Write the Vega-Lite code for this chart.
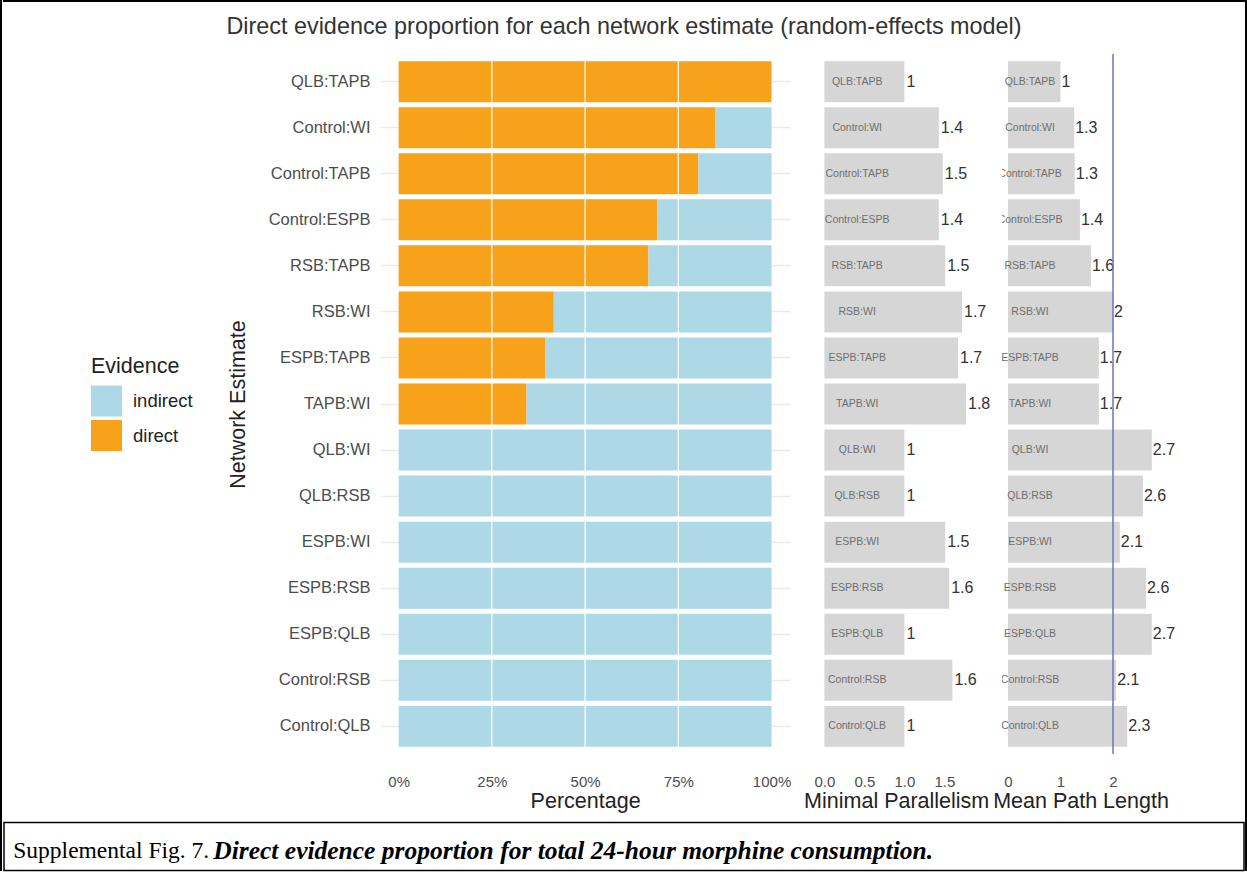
{
  "$schema": "https://vega.github.io/schema/vega-lite/v6.json",
  "padding": 0,
  "background": "white",
  "config": {
    "view": {"stroke": null},
    "font": "Liberation Sans",
    "axis": {"labelColor": "#4D4D4D", "titleColor": "#222222", "titleFontWeight": "normal", "titleFontSize": 21.5, "domain": false, "ticks": false}
  },
  "datasets": {
    "blank": [{"k": ""}],
    "evidence": [
      {"comparison": "QLB:TAPB", "evidence": "direct", "proportion": 1.0},
      {"comparison": "QLB:TAPB", "evidence": "indirect", "proportion": 0.0},
      {"comparison": "Control:WI", "evidence": "direct", "proportion": 0.85},
      {"comparison": "Control:WI", "evidence": "indirect", "proportion": 0.15},
      {"comparison": "Control:TAPB", "evidence": "direct", "proportion": 0.804},
      {"comparison": "Control:TAPB", "evidence": "indirect", "proportion": 0.196},
      {"comparison": "Control:ESPB", "evidence": "direct", "proportion": 0.694},
      {"comparison": "Control:ESPB", "evidence": "indirect", "proportion": 0.306},
      {"comparison": "RSB:TAPB", "evidence": "direct", "proportion": 0.67},
      {"comparison": "RSB:TAPB", "evidence": "indirect", "proportion": 0.33},
      {"comparison": "RSB:WI", "evidence": "direct", "proportion": 0.416},
      {"comparison": "RSB:WI", "evidence": "indirect", "proportion": 0.584},
      {"comparison": "ESPB:TAPB", "evidence": "direct", "proportion": 0.394},
      {"comparison": "ESPB:TAPB", "evidence": "indirect", "proportion": 0.606},
      {"comparison": "TAPB:WI", "evidence": "direct", "proportion": 0.343},
      {"comparison": "TAPB:WI", "evidence": "indirect", "proportion": 0.657},
      {"comparison": "QLB:WI", "evidence": "direct", "proportion": 0.0},
      {"comparison": "QLB:WI", "evidence": "indirect", "proportion": 1.0},
      {"comparison": "QLB:RSB", "evidence": "direct", "proportion": 0.0},
      {"comparison": "QLB:RSB", "evidence": "indirect", "proportion": 1.0},
      {"comparison": "ESPB:WI", "evidence": "direct", "proportion": 0.0},
      {"comparison": "ESPB:WI", "evidence": "indirect", "proportion": 1.0},
      {"comparison": "ESPB:RSB", "evidence": "direct", "proportion": 0.0},
      {"comparison": "ESPB:RSB", "evidence": "indirect", "proportion": 1.0},
      {"comparison": "ESPB:QLB", "evidence": "direct", "proportion": 0.0},
      {"comparison": "ESPB:QLB", "evidence": "indirect", "proportion": 1.0},
      {"comparison": "Control:RSB", "evidence": "direct", "proportion": 0.0},
      {"comparison": "Control:RSB", "evidence": "indirect", "proportion": 1.0},
      {"comparison": "Control:QLB", "evidence": "direct", "proportion": 0.0},
      {"comparison": "Control:QLB", "evidence": "indirect", "proportion": 1.0}
    ],
    "paths": [
      {"comparison": "QLB:TAPB", "minpar": 1.0, "mpl": 1.0},
      {"comparison": "Control:WI", "minpar": 1.43, "mpl": 1.26},
      {"comparison": "Control:TAPB", "minpar": 1.48, "mpl": 1.27},
      {"comparison": "Control:ESPB", "minpar": 1.43, "mpl": 1.37},
      {"comparison": "RSB:TAPB", "minpar": 1.51, "mpl": 1.58},
      {"comparison": "RSB:WI", "minpar": 1.72, "mpl": 2.0},
      {"comparison": "ESPB:TAPB", "minpar": 1.67, "mpl": 1.73},
      {"comparison": "TAPB:WI", "minpar": 1.77, "mpl": 1.73},
      {"comparison": "QLB:WI", "minpar": 1.0, "mpl": 2.74},
      {"comparison": "QLB:RSB", "minpar": 1.0, "mpl": 2.57},
      {"comparison": "ESPB:WI", "minpar": 1.51, "mpl": 2.13},
      {"comparison": "ESPB:RSB", "minpar": 1.56, "mpl": 2.63},
      {"comparison": "ESPB:QLB", "minpar": 1.0, "mpl": 2.74},
      {"comparison": "Control:RSB", "minpar": 1.6, "mpl": 2.06},
      {"comparison": "Control:QLB", "minpar": 1.0, "mpl": 2.27}
    ]
  },
  "spacing": 0,
  "hconcat": [
    {
      "width": 0.01,
      "height": 869,
      "view": {"stroke": "black", "strokeWidth": 2},
      "data": {"name": "blank"},
      "mark": {"type": "text", "fontSize": 0},
      "encoding": {"text": {"field": "k"}}
    },
    {
      "spacing": 9.5,
      "vconcat": [
        {
          "width": 1240,
          "height": 0.01,
          "view": {"stroke": "black", "strokeWidth": 2},
          "data": {"name": "blank"},
          "mark": {"type": "text", "fontSize": 0},
          "encoding": {"text": {"field": "k"}}
        },
        {
          "width": 1240,
          "height": 31,
          "data": {"values": [{"title": "Direct evidence proportion for each network estimate (random-effects model)"}]},
          "mark": {"type": "text", "fontSize": 23.4, "color": "#333333", "dy": -1},
          "encoding": {"text": {"field": "title"}}
        },
        {
          "bounds": "flush",
          "spacing": 28,
          "hconcat": [
            {
              "width": 347.4,
              "height": 700,
              "data": {"name": "blank"},
              "mark": {"type": "text", "fontSize": 0},
              "encoding": {"text": {"field": "k"}}
            },
            {
              "width": 410.2,
              "height": 700,
              "data": {"name": "evidence"},
              "layer": [
                {
                  "mark": {"type": "bar"},
                  "encoding": {
                    "y": {"field": "comparison", "type": "nominal",
                      "sort": ["QLB:TAPB","Control:WI","Control:TAPB","Control:ESPB","RSB:TAPB","RSB:WI","ESPB:TAPB","TAPB:WI","QLB:WI","QLB:RSB","ESPB:WI","ESPB:RSB","ESPB:QLB","Control:RSB","Control:QLB"],
                      "scale": {"paddingInner": 0.11, "paddingOuter": 0.155},
                      "axis": {"title": "Network Estimate", "labelFontSize": 16.5, "labelPadding": 10, "titlePadding": 19, "grid": true, "gridColor": "#EBEBEB", "gridWidth": 1.4}},
                    "x": {"field": "proportion", "type": "quantitative", "stack": "zero",
                      "scale": {"domain": [-0.05, 1.05], "nice": false, "zero": false},
                      "axis": {"title": "Percentage", "values": [0, 0.25, 0.5, 0.75, 1], "format": ".0%", "labelFontSize": 15, "labelPadding": 20, "titlePadding": 1, "grid": false}},
                    "color": {"field": "evidence", "type": "nominal",
                      "scale": {"domain": ["indirect", "direct"], "range": ["#ADD8E6", "#F8A21C"]},
                      "legend": {"title": "Evidence", "orient": "none", "legendX": 90, "legendY": 355, "titleFontSize": 21.5, "titleFontWeight": "normal", "titleColor": "#222222", "labelFontSize": 18.5, "labelColor": "#222222", "symbolType": "square", "symbolSize": 961, "symbolStrokeWidth": 0, "symbolOpacity": 1, "labelOffset": 11, "titlePadding": 8, "rowPadding": 3.5, "padding": 0}},
                    "order": {"field": "evidence", "sort": "ascending"}
                  }
                },
                {
                  "data": {"values": [{"g": 0.25}, {"g": 0.5}, {"g": 0.75}]},
                  "mark": {"type": "rule", "color": "white", "strokeWidth": 1.2},
                  "encoding": {"x": {"field": "g", "type": "quantitative", "title": "Percentage"}}
                }
              ]
            },
            {
              "width": 154.4,
              "height": 700,
              "data": {"name": "paths"},
              "layer": [
                {
                  "mark": {"type": "bar", "color": "#D6D6D6"},
                  "encoding": {
                    "y": {"field": "comparison", "type": "nominal", "sort": null, "scale": {"paddingInner": 0.11, "paddingOuter": 0.155}, "axis": null},
                    "x": {"field": "minpar", "type": "quantitative",
                      "scale": {"domain": [-0.0675, 1.8625], "nice": false, "zero": false},
                      "axis": {"title": "Minimal Parallelism", "values": [0, 0.5, 1, 1.5], "format": ".1f", "labelFontSize": 15, "labelPadding": 20, "titlePadding": 1, "grid": false}}
                  }
                },
                {
                  "mark": {"type": "text", "align": "left", "dx": 2, "fontSize": 16, "color": "#333333"},
                  "encoding": {
                    "y": {"field": "comparison", "type": "nominal", "sort": null},
                    "x": {"field": "minpar", "type": "quantitative"},
                    "text": {"field": "minpar", "format": ".2~g"}
                  }
                },
                {
                  "mark": {"type": "text", "fontSize": 10.5, "color": "#6E6E6E", "clip": true},
                  "encoding": {
                    "y": {"field": "comparison", "type": "nominal", "sort": null},
                    "x": {"datum": 0.41},
                    "text": {"field": "comparison"}
                  }
                }
              ]
            },
            {
              "width": 157,
              "height": 700,
              "data": {"name": "paths"},
              "layer": [
                {
                  "mark": {"type": "bar", "color": "#D6D6D6"},
                  "encoding": {
                    "y": {"field": "comparison", "type": "nominal", "sort": null, "scale": {"paddingInner": 0.11, "paddingOuter": 0.155}, "axis": null},
                    "x": {"field": "mpl", "type": "quantitative",
                      "scale": {"domain": [-0.114, 2.876], "nice": false, "zero": false},
                      "axis": {"title": "Mean Path Length", "values": [0, 1, 2], "format": "d", "labelFontSize": 15, "labelPadding": 20, "titlePadding": 1, "grid": false}}
                  }
                },
                {
                  "mark": {"type": "text", "align": "left", "dx": 1, "fontSize": 16, "color": "#333333"},
                  "encoding": {
                    "y": {"field": "comparison", "type": "nominal", "sort": null},
                    "x": {"field": "mpl", "type": "quantitative"},
                    "text": {"field": "mpl", "format": ".2~g"}
                  }
                },
                {
                  "mark": {"type": "text", "fontSize": 10.5, "color": "#6E6E6E", "clip": true},
                  "encoding": {
                    "y": {"field": "comparison", "type": "nominal", "sort": null},
                    "x": {"datum": 0.42},
                    "text": {"field": "comparison"}
                  }
                },
                {
                  "data": {"values": [{"ref": 2}]},
                  "mark": {"type": "rule", "color": "#7070C0", "strokeWidth": 1.5},
                  "encoding": {"x": {"field": "ref", "type": "quantitative"}}
                }
              ]
            }
          ]
        },
        {
          "width": 1240,
          "height": 48,
          "view": {"stroke": "black", "strokeWidth": 1.5},
          "data": {"values": [{"lead": "Supplemental Fig. 7.", "caption": "Direct evidence proportion for total 24-hour morphine consumption."}]},
          "layer": [
            {
              "mark": {"type": "text", "align": "left", "font": "Liberation Serif", "fontSize": 23.5, "color": "black", "dy": 4},
              "encoding": {"x": {"datum": 0.0075, "scale": {"domain": [0, 1], "nice": false}, "axis": null}, "text": {"field": "lead"}}
            },
            {
              "mark": {"type": "text", "align": "left", "font": "Liberation Serif", "fontSize": 25.5, "fontStyle": "italic", "fontWeight": "bold", "color": "black", "dy": 4},
              "encoding": {"x": {"datum": 0.1688}, "text": {"field": "caption"}}
            }
          ]
        }
      ]
    },
    {
      "width": 0.01,
      "height": 869,
      "view": {"stroke": "black", "strokeWidth": 2},
      "data": {"name": "blank"},
      "mark": {"type": "text", "fontSize": 0},
      "encoding": {"text": {"field": "k"}}
    }
  ]
}
